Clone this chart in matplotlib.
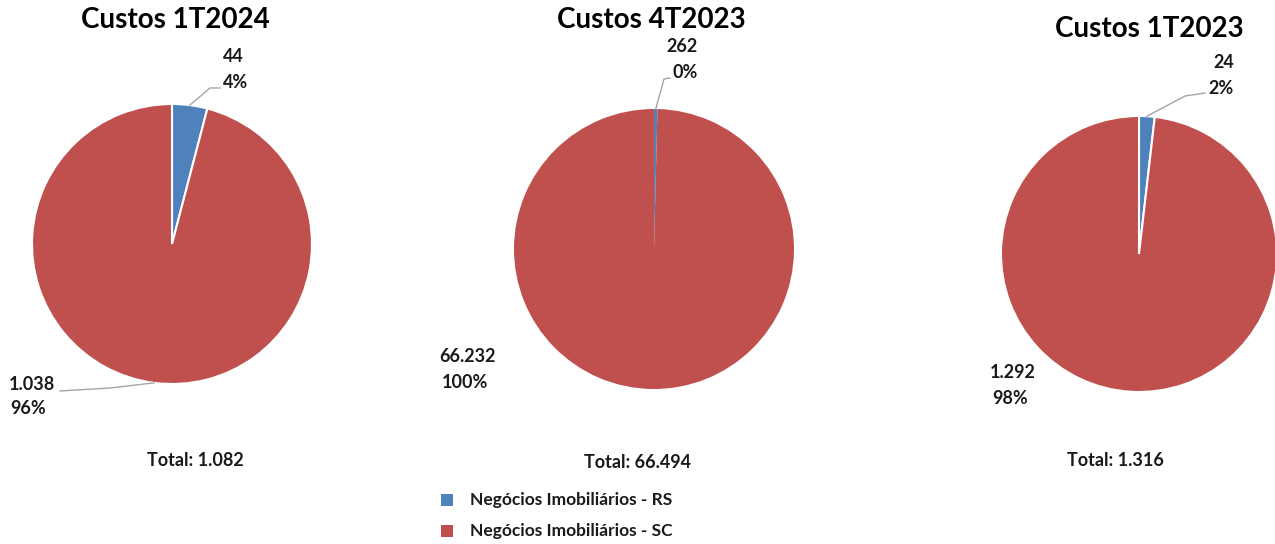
import matplotlib
matplotlib.use("Agg")
import matplotlib.pyplot as plt
from matplotlib.lines import Line2D
from matplotlib.patches import Rectangle
import numpy as np

plt.rcParams["font.family"] = ["Lato", "DejaVu Sans"]

# Costs per period: Negócios Imobiliários RS / SC
titles = ["Custos 1T2024", "Custos 4T2023", "Custos 1T2023"]
rs_values = [44, 262, 24]
sc_values = [1038, 66232, 1292]
rs_labels = ["44", "262", "24"]
sc_labels = ["1.038", "66.232", "1.292"]
totals = ["Total: 1.082", "Total: 66.494", "Total: 1.316"]
series = ["Negócios Imobiliários - RS", "Negócios Imobiliários - SC"]
colors = ["#4F81BD", "#C0504D"]

W, H = 1275, 544
fig = plt.figure(figsize=(W / 100, H / 100), dpi=100)


def fx(x):
    return x / W


def fy(y):
    return 1 - y / H


# layout in pixels (top-down): pie centre, radius, title pos, label spots
pies = [
    dict(c=(172, 244), r=140, title=(175, 20), edge=1.5,
         rs_txt=(233, 57), rs_pct=(236, 83), rs_line=[(220, 88), (210, 88)],
         sc_txt=(32, 384), sc_pct=(28, 409), sc_line=[(60, 391), (110, 388)],
         total=(195, 461)),
    dict(c=(654, 249), r=140, title=(651, 20), edge=0,
         rs_txt=(682, 47), rs_pct=(685, 73), rs_line=[(670, 78), (664, 79)],
         sc_txt=(467, 357), sc_pct=(465, 383), sc_line=None,
         total=(638, 463)),
    dict(c=(1139, 254), r=138, title=(1149, 29), edge=1.5,
         rs_txt=(1224, 62), rs_pct=(1221, 88), rs_line=[(1205, 93), (1185, 96)],
         sc_txt=(1013, 372), sc_pct=(1010, 398), sc_line=None,
         total=(1115, 460)),
]

for i, p in enumerate(pies):
    cx, cy = p["c"]
    r = p["r"]
    ax = fig.add_axes([fx(cx - r), fy(cy + r), 2 * r / W, 2 * r / H])
    vals = [rs_values[i], sc_values[i]]
    ax.pie(vals, colors=colors, startangle=90, counterclock=False,
           wedgeprops=dict(edgecolor="white", linewidth=p["edge"]))
    ax.set_xlim(-1, 1)
    ax.set_ylim(-1, 1)
    ax.set_aspect("auto")
    ax.axis("off")

    fig.text(fx(p["title"][0]), fy(p["title"][1]), titles[i], ha="center",
             va="center", fontsize=20, fontweight="bold", color="black")

    total = sum(vals)
    fracs = np.array(vals) / total
    mids = [fracs[0] / 2, fracs[0] + fracs[1] / 2]
    pct_txt = [f"{round(f * 100):.0f}%" for f in fracs]

    # value + percentage labels with leader lines to the wedge edge
    for k, (lab, key) in enumerate([(rs_labels[i], "rs"), (sc_labels[i], "sc")]):
        tx, ty = p[key + "_txt"]
        px_, py_ = p[key + "_pct"]
        fig.text(fx(tx), fy(ty), lab, ha="center", va="center",
                 fontsize=13, fontweight="bold", color="#1a1a1a")
        fig.text(fx(px_), fy(py_), pct_txt[k], ha="center", va="center",
                 fontsize=13, fontweight="bold", color="#1a1a1a")
        pts = p[key + "_line"]
        if pts:
            theta = np.deg2rad(90 - 360 * mids[k])
            ex = cx + r * np.cos(theta)
            ey = cy - r * np.sin(theta)
            xs = [fx(x) for x, _ in pts] + [fx(ex)]
            ys = [fy(y) for _, y in pts] + [fy(ey)]
            fig.add_artist(Line2D(xs, ys, color="#a6a6a6", linewidth=1))

    fig.text(fx(p["total"][0]), fy(p["total"][1]), totals[i], ha="center",
             va="center", fontsize=13, fontweight="bold", color="#1a1a1a")

# legend
for k, name in enumerate(series):
    ly = 500 + k * 31
    fig.add_artist(Rectangle((fx(441), fy(ly + 6)), 12 / W, 12 / H,
                             facecolor=colors[k], edgecolor="none"))
    fig.text(fx(470), fy(ly), name, ha="left", va="center",
             fontsize=12.5, fontweight="bold", color="#1a1a1a")

fig.savefig("out.png", dpi=100, facecolor="white")
